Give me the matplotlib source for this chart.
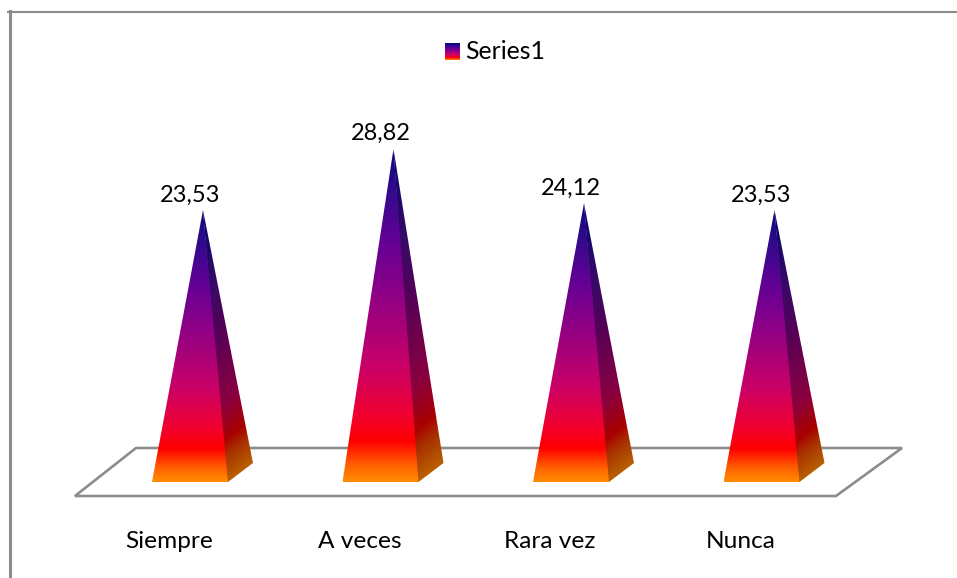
import numpy as np
import matplotlib
matplotlib.use('Agg')
import matplotlib.pyplot as plt
from matplotlib.colors import LinearSegmentedColormap
from matplotlib.legend_handler import HandlerPatch
from matplotlib.lines import Line2D
from matplotlib.patches import Patch, Polygon, Rectangle

categories = ['Siempre', 'A veces', 'Rara vez', 'Nunca']
values = [23.53, 28.82, 24.12, 23.53]
value_labels = ['23,53', '28,82', '24,12', '23,53']
series_name = 'Series1'

W, H = 957, 578
PX_X = 190.5      # px per category
PX_Y = 11.56      # px per value unit
X0 = 169          # px of first category
Y0 = 482          # px from top of value 0

# pyramid shape, in px
SHIFT = 21
HALF = 38
APEX = 34
DEPTH_X = 25
DEPTH_Y = 19

grey = '#8c8c8c'
stops = [(0, '#ff8c00'), (0.05, '#ff6000'), (0.12, '#ff0000'), (0.2, '#f00030'),
         (0.35, '#c80068'), (0.58, '#8a0088'), (0.72, '#640095'), (0.88, '#300a8c'), (1, '#10087f')]
side_stops = [(0, '#b86000'), (0.1, '#a83000'), (0.16, '#a80000'), (0.3, '#8a0040'),
              (0.58, '#540058'), (0.75, '#3a0a66'), (1, '#10086a')]
front_cmap = LinearSegmentedColormap.from_list('front', stops)
side_cmap = LinearSegmentedColormap.from_list('side', side_stops)


class GradientHandler(HandlerPatch):
    def create_artists(self, legend, orig_handle, xdescent, ydescent, width, height, fontsize, trans):
        bands = []
        n = 30
        for k in range(n):
            t = 0.04 + 0.96 * k / (n - 1)
            bands.append(Rectangle((-xdescent + 0.7, -ydescent - 1 + height * k / n), width, height / n + 0.2,
                                   facecolor=front_cmap(t), edgecolor='none', transform=trans))
        return bands


plt.rcParams['font.family'] = ['Lato', 'DejaVu Sans']
fig = plt.figure(figsize=(W / 100, H / 100), dpi=100)
ax = fig.add_axes([0, (H - Y0) / H, 1, Y0 / H])
ax.set_facecolor('none')

dx = 1 / PX_X
dy = 1 / PX_Y

# floor
floor = Polygon([(-94 * dx, -14 * dy), (667 * dx, -14 * dy), (733 * dx, 34 * dy), (-33 * dx, 34 * dy)],
                closed=True, facecolor='white', edgecolor=grey, linewidth=1.9, clip_on=False, zorder=1)
ax.add_patch(floor)

for i, v in enumerate(values):
    cx = i + SHIFT * dx
    left = cx - HALF * dx
    right = cx + HALF * dx
    apex = i + APEX * dx
    back_x = right + DEPTH_X * dx
    back_y = DEPTH_Y * dy

    # front face
    grad = np.linspace(1, 0, 256).reshape(-1, 1)
    im = ax.imshow(grad, extent=(left, right, 0, v), cmap=front_cmap, vmin=0, vmax=1,
                   aspect='auto', zorder=3, interpolation='bilinear')
    im.set_clip_path(Polygon([(left, 0), (right, 0), (apex, v)], transform=ax.transData))

    # right face, colour bands run parallel to the base edge
    # it starts a little under the front face so no seam shows
    xs = np.linspace(apex, back_x, 60)
    ys = np.linspace(v, 0, 400)
    gx, gy = np.meshgrid(xs, ys)
    tilt = (DEPTH_Y * dy) / (DEPTH_X * dx)
    side = np.clip((gy - tilt * (gx - right)) / v, 0, 1)
    im2 = ax.imshow(side, extent=(apex, back_x, 0, v), cmap=side_cmap, vmin=0, vmax=1,
                    aspect='auto', zorder=2, interpolation='bilinear')
    im2.set_clip_path(Polygon([(right - 3 * dx, 0), (right, 0), (back_x, back_y), (apex, v)],
                              transform=ax.transData))

    ax.text(cx, v + 4.5 * dy, value_labels[i], ha='center', va='bottom', fontsize=17, color='black', zorder=5)

ax.set_xlim(-X0 / PX_X, (W - X0) / PX_X)
ax.set_ylim(0, Y0 / PX_Y)
ax.set_xticks(range(len(categories)))
ax.set_xticklabels(categories, fontsize=17.6, color='black')
ax.set_yticks([])
ax.tick_params(axis='x', length=0, pad=35.5)
for s in ax.spines.values():
    s.set_visible(False)

leg = fig.legend([Patch()], [series_name], handler_map={Patch: GradientHandler()},
                 loc='center', bbox_to_anchor=(494.5 / W, 1 - 51.5 / H), frameon=False,
                 fontsize=17.9, handlelength=0.6, handleheight=0.6, handletextpad=0.25,
                 borderpad=0, borderaxespad=0)

# chart frame, only left and top are inside the crop
fig.add_artist(Line2D([9.5 / W, 9.5 / W], [0, 1 - 11 / H], color=grey, linewidth=2.2))
fig.add_artist(Line2D([8 / W, 1], [1 - 12 / H, 1 - 12 / H], color=grey, linewidth=1.5))

fig.savefig('out.png', dpi=100)
